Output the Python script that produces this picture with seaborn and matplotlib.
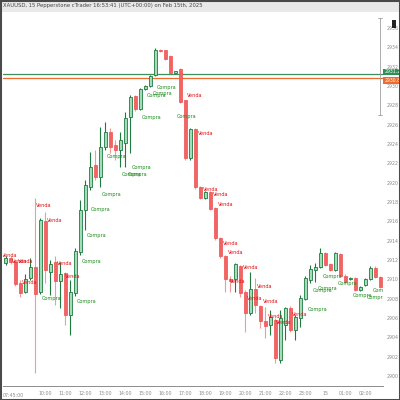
import matplotlib
matplotlib.use("Agg")
import matplotlib.pyplot as plt
import seaborn as sns
import numpy as np
from matplotlib.patches import Rectangle

sns.set_theme(style="white")
plt.rcParams['font.family'] = ['Liberation Sans Narrow', 'DejaVu Sans']

# ---------------- data ----------------
opens = [2911.7, 2912.2, 2911.8, 2909.6, 2908.7, 2910.1, 2911.3, 2908.7, 2916.0, 2910.8,
         2911.8, 2909.8, 2910.7, 2906.3, 2908.6, 2912.8, 2917.2, 2919.6, 2921.8, 2920.6,
         2923.7, 2925.2, 2923.9, 2923.4, 2924.1, 2926.8, 2929.0, 2927.6, 2929.7, 2930.0,
         2931.1, 2933.7, 2933.7, 2933.1, 2931.4, 2931.8, 2928.6, 2922.6, 2925.6, 2919.6,
         2918.4, 2919.0, 2917.4, 2914.3, 2912.4, 2910.0, 2910.0, 2911.4, 2908.7, 2906.5,
         2909.0, 2907.2, 2905.7, 2905.3, 2905.8, 2901.7, 2905.3, 2907.0, 2904.8, 2906.0,
         2908.0, 2909.9, 2911.0, 2911.3, 2912.7, 2911.6, 2911.0, 2912.6, 2910.4, 2910.0,
         2910.1, 2908.9, 2909.4, 2910.0, 2911.2, 2910.2]
highs = [2912.4, 2912.4, 2912.0, 2909.9, 2910.6, 2912.2, 2918.4, 2916.3, 2917.0, 2912.0,
         2912.4, 2911.8, 2910.8, 2909.9, 2913.2, 2918.2, 2920.3, 2923.2, 2923.4, 2925.8,
         2926.3, 2925.7, 2924.4, 2925.2, 2927.3, 2929.1, 2929.1, 2929.8, 2930.1, 2931.1,
         2933.9, 2933.8, 2933.7, 2933.2, 2931.6, 2931.9, 2928.6, 2925.7, 2925.7, 2919.7,
         2919.1, 2919.1, 2917.5, 2914.4, 2912.5, 2910.4, 2911.7, 2911.5, 2908.9, 2910.8,
         2910.1, 2907.3, 2907.1, 2906.8, 2906.0, 2906.8, 2907.1, 2907.2, 2906.3, 2908.4,
         2910.3, 2911.5, 2911.7, 2913.2, 2912.8, 2911.7, 2912.8, 2912.7, 2910.6, 2910.2,
         2910.2, 2909.3, 2910.1, 2911.4, 2911.4, 2910.3]
lows = [2911.5, 2911.6, 2909.3, 2908.2, 2908.6, 2909.9, 2900.3, 2908.5, 2909.6, 2908.4,
        2907.3, 2907.0, 2905.3, 2904.2, 2908.3, 2912.5, 2915.1, 2919.2, 2920.3, 2919.6,
        2923.4, 2923.1, 2922.3, 2921.6, 2921.6, 2923.1, 2927.4, 2927.5, 2929.6, 2929.9,
        2931.0, 2933.5, 2932.7, 2931.3, 2931.4, 2928.2, 2922.4, 2922.4, 2919.4, 2918.3,
        2918.3, 2917.2, 2914.1, 2912.2, 2908.7, 2908.7, 2908.7, 2908.2, 2904.6, 2906.3,
        2906.5, 2905.0, 2903.9, 2904.2, 2901.4, 2901.3, 2903.7, 2904.6, 2903.7, 2905.1,
        2907.9, 2909.6, 2909.7, 2911.2, 2911.4, 2910.9, 2910.9, 2910.3, 2909.6, 2909.9,
        2908.8, 2908.8, 2909.3, 2909.9, 2910.1, 2909.1]
closes = [2912.2, 2911.8, 2909.5, 2908.6, 2910.0, 2911.3, 2908.5, 2916.1, 2911.0, 2911.6,
          2909.8, 2910.6, 2906.3, 2908.7, 2912.9, 2917.2, 2919.8, 2921.6, 2920.6, 2923.7,
          2925.2, 2923.7, 2923.4, 2924.4, 2926.7, 2928.9, 2927.6, 2929.7, 2930.0, 2931.0,
          2933.7, 2933.6, 2932.8, 2931.4, 2931.5, 2928.3, 2922.6, 2925.6, 2919.6, 2918.4,
          2919.0, 2917.3, 2914.3, 2912.4, 2910.0, 2909.8, 2911.6, 2908.6, 2906.5, 2909.0,
          2907.3, 2905.7, 2905.2, 2906.1, 2901.9, 2906.0, 2907.0, 2904.8, 2906.1, 2908.1,
          2910.1, 2911.1, 2911.3, 2912.7, 2911.5, 2911.0, 2912.7, 2910.4, 2909.7, 2910.1,
          2908.9, 2909.2, 2910.0, 2911.2, 2910.2, 2909.2]

venda_x = [-0.7, 1.3, 2.5, 3.3, 6.1, 8.3, 10.3, 11.9, 36.3, 38.5, 39.5, 41.5, 42.5,
           43.5, 44.5, 47.5, 44.9, 48.3, 50.3, 51.5, 52.5, 54.1, 57.3]
venda_y = [2912.5, 2911.8, 2911.8, 2909.7, 2917.6, 2916.1, 2911.6, 2910.3, 2929.0, 2925.1,
           2919.3, 2918.8, 2917.7, 2913.7, 2912.8, 2911.2, 2909.8, 2908.0, 2909.3, 2907.7,
           2906.2, 2905.5, 2906.4]
compra_x = [7.3, 14.3, 15.3, 16.3, 17.1, 19.3, 20.3, 25.3, 23.3, 24.5, 27.3, 28.3, 29.5,
            30.3, 34.3, 60.5, 61.5, 62.5, 63.5, 66.5, 69.5, 72.3, 73.5]
compra_y = [2908.0, 2907.7, 2911.8, 2914.5, 2917.2, 2918.8, 2922.7, 2921.6, 2920.9, 2920.9,
            2926.7, 2929.0, 2929.2, 2929.9, 2926.8, 2906.9, 2908.8, 2909.1, 2910.3, 2909.6,
            2908.3, 2908.1, 2908.9]

level_green = 2931.2
level_orange = 2930.8

price_ticks = [2900 + 2 * k for k in range(19)]
time_tick_pos = [8 + 4 * k for k in range(17)]
time_tick_labels = ["10:00", "11:00", "12:00", "13:00", "14:00", "15:00", "16:00",
                    "17:00", "18:00", "19:00", "20:00", "21:00", "22:00", "23:00",
                    "15", "01:00", "02:00"]
title = "XAUUSD, 15 Pepperstone cTrader 16:53:41 (UTC+00:00) on Feb 15th, 2025"

# ---------------- figure ----------------
fig = plt.figure(figsize=(4, 4), dpi=100)
fig.patch.set_facecolor("white")
ax = fig.add_axes([3 / 400, 14 / 400, 380 / 400, 374 / 400])
ax.set_facecolor("white")

UP_FILL, UP_EDGE = "#a3dcb8", "#1f7a40"
DN_FILL, DN_EDGE = "#f26464", "#ee4f4f"

o = np.array(opens); h = np.array(highs); l = np.array(lows); c = np.array(closes)
idx = np.arange(len(o))
up = c >= o
# wicks
ax.vlines(idx[up], l[up], h[up], color=UP_EDGE, linewidth=0.8, zorder=2)
ax.vlines(idx[~up], l[~up], h[~up], color="#f19a9a", linewidth=0.8, zorder=2)
# bodies
bot = np.minimum(o, c)
hgt = np.maximum(np.abs(c - o), 0.12)
ax.bar(idx[up], hgt[up], bottom=bot[up], width=0.7, color=UP_FILL,
       edgecolor=UP_EDGE, linewidth=0.6, zorder=3)
ax.bar(idx[~up], hgt[~up], bottom=bot[~up], width=0.7, color=DN_FILL,
       edgecolor=DN_EDGE, linewidth=0.5, zorder=3)

# horizontal levels
ax.axhline(level_green, color="#3f8f5f", linewidth=0.9, zorder=1)
ax.axhline(level_orange, color="#ec6a2c", linewidth=0.9, zorder=1)

# signal labels
for x, y in zip(venda_x, venda_y):
    ax.text(x, y, "Venda", color="#e01010", fontsize=3.6, ha="left", va="center",
            zorder=5, clip_on=True)
for x, y in zip(compra_x, compra_y):
    ax.text(x, y, "Compra", color="#1c8c1c", fontsize=3.6, ha="left", va="center",
            zorder=5, clip_on=True)

ax.set_xlim(-0.5, 75.5)
ax.set_ylim(2898.97, 2937.66)

# right price scale
ax.yaxis.tick_right()
ax.set_yticks(price_ticks)
ax.set_yticklabels([f"{v:d}" for v in price_ticks])
ax.tick_params(axis="y", length=0, pad=2.5, labelsize=3.4, labelcolor="#8a8a8a")
ax.set_xticks(time_tick_pos)
ax.set_xticklabels(time_tick_labels)
ax.tick_params(axis="x", length=2, width=0.4, color="#9a9a9a", pad=1.5,
               labelsize=3.4, labelcolor="#8a8a8a")
for s in ["top", "left", "right"]:
    ax.spines[s].set_visible(False)
ax.spines["bottom"].set_color("#8c8c8c")
ax.spines["bottom"].set_linewidth(0.7)
ax.text(1.5, -0.018, "07:45:00", transform=ax.get_xaxis_transform(),
        fontsize=3.4, color="#8a8a8a", ha="center", va="top", clip_on=False)

# price boxes on the scale
ax.text(1.003, level_green, f"{level_green:.1f}", transform=ax.get_yaxis_transform(),
        fontsize=3.3, color="white", ha="left", va="bottom", clip_on=False, zorder=6,
        bbox=dict(boxstyle="square,pad=0.15", fc="#2f8f55", ec="none"))
ax.text(1.003, level_orange, f"{level_orange:.1f}", transform=ax.get_yaxis_transform(),
        fontsize=3.3, color="white", ha="left", va="top", clip_on=False, zorder=6,
        bbox=dict(boxstyle="square,pad=0.2", fc="#f06a2a", ec="none"))

# price-range bracket on scale
ax.plot([0.993, 0.993], [2937.0, 2927.0], transform=ax.get_yaxis_transform(),
        color="#a0a0a0", linewidth=0.6, clip_on=False)
ax.plot([0.988, 0.998], [2937.0, 2937.0], transform=ax.get_yaxis_transform(),
        color="#a0a0a0", linewidth=0.6, clip_on=False)
ax.plot([0.988, 0.998], [2927.0, 2927.0], transform=ax.get_yaxis_transform(),
        color="#a0a0a0", linewidth=0.6, clip_on=False)

# title band and frame
fig.patches.append(Rectangle((0, 388 / 400), 1, 12 / 400, transform=fig.transFigure,
                             facecolor="#e9e9e9", edgecolor="none", zorder=-1))
fig.text(3 / 400, 1 - 6 / 400, title, fontsize=3.8, color="#444444",
         ha="left", va="center")
fig.patches.append(Rectangle((392 / 400, 1 - 28 / 400), 4 / 400, 8 / 400,
                             transform=fig.transFigure, facecolor="#222222",
                             edgecolor="none", zorder=5))
fig.patches.append(Rectangle((0, 0), 1, 1, transform=fig.transFigure, facecolor="none",
                             edgecolor="#4a4a4a", linewidth=2.2, zorder=10))

fig.savefig("out.png", dpi=100)
